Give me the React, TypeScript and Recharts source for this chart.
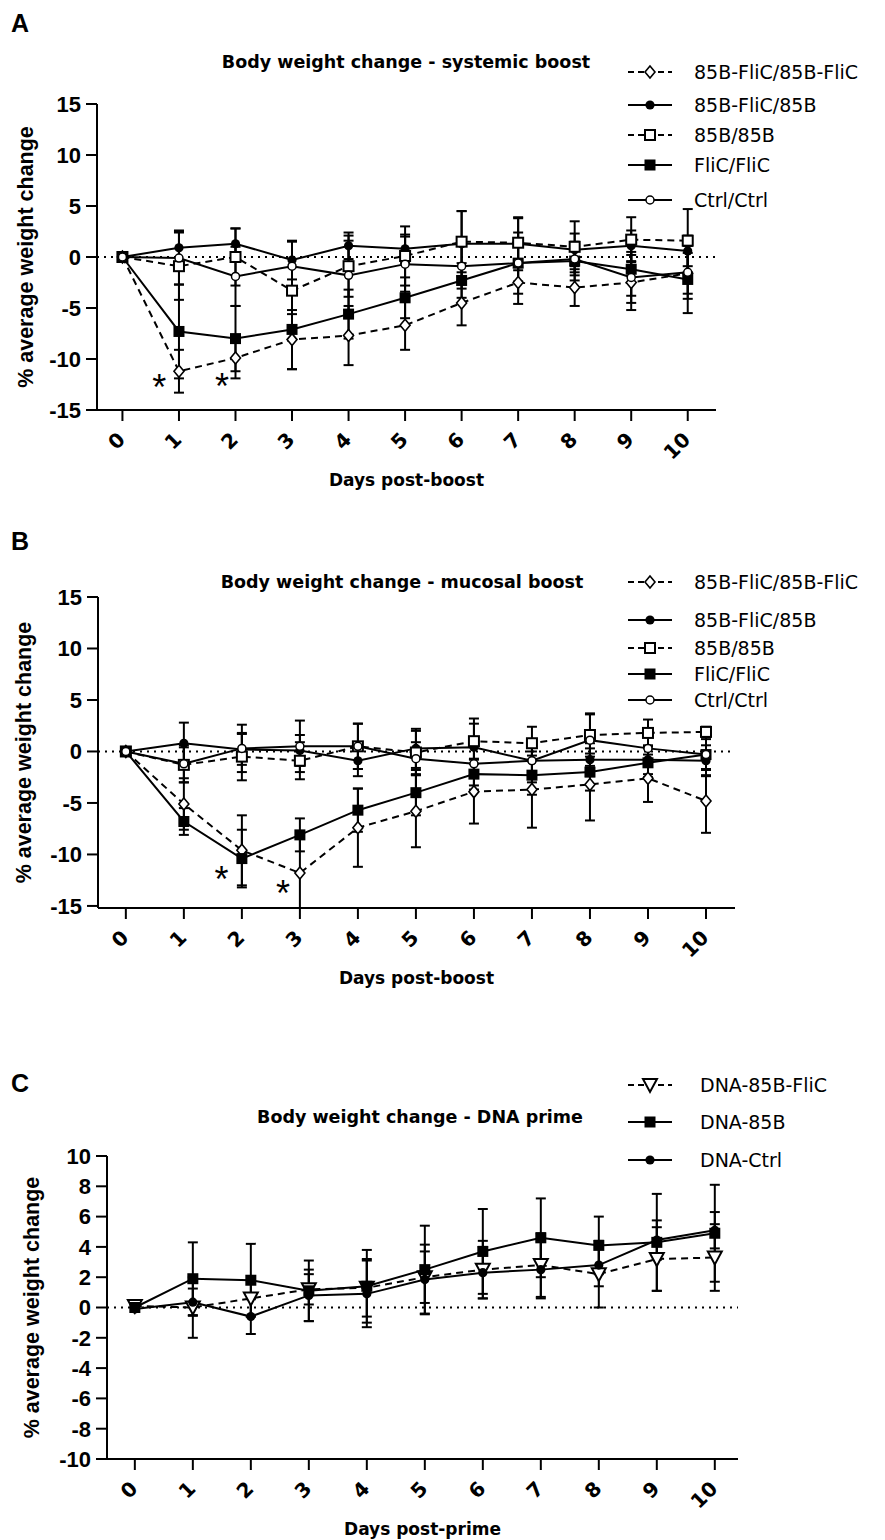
import React from 'react';
import { LineChart, Line, XAxis, YAxis, ReferenceLine, ReferenceDot, ErrorBar, Legend } from 'recharts';

// ---------------- DATA ----------------
const DAYS = [0, 1, 2, 3, 4, 5, 6, 7, 8, 9, 10];

// Panel A – systemic boost
const A_TITLE = 'Body weight change - systemic boost';
const A_NAMES = ['85B-FliC/85B-FliC', '85B-FliC/85B', '85B/85B', 'FliC/FliC', 'Ctrl/Ctrl'];
const A_85BFLIC_85BFLIC = [0, -11.2, -9.9, -8.1, -7.7, -6.7, -4.5, -2.5, -3.0, -2.5, -1.6];
const A_85BFLIC_85BFLIC_ERR = [0, 2.1, 2.0, 2.9, 2.9, 2.4, 2.2, 2.1, 1.8, 2.7, 2.0];
const A_85BFLIC_85B = [0, 0.9, 1.3, -0.3, 1.1, 0.8, 1.3, 1.3, 0.7, 1.1, 0.6];
const A_85BFLIC_85B_ERR = [0, 1.7, 1.5, 1.9, 1.3, 1.4, 3.2, 2.6, 1.6, 1.5, 1.5];
const A_85B_85B = [0, -0.9, 0.0, -3.3, -0.9, 0.1, 1.5, 1.4, 1.0, 1.7, 1.6];
const A_85B_85B_ERR = [0, 3.3, 2.8, 2.3, 3.0, 2.9, 3.0, 2.4, 2.5, 2.2, 3.1];
const A_FLIC_FLIC = [0, -7.3, -8.0, -7.1, -5.6, -4.0, -2.3, -0.6, -0.4, -1.2, -2.2];
const A_FLIC_FLIC_ERR = [0, 4.6, 3.2, 3.9, 2.4, 2.0, 1.7, 3.0, 1.9, 2.6, 3.3];
const A_CTRL_CTRL = [0, -0.1, -1.9, -0.9, -1.8, -0.7, -0.9, -0.6, -0.2, -2.0, -1.5];
const A_CTRL_CTRL_ERR = [0, 2.6, 2.9, 2.4, 3.4, 2.7, 2.2, 1.8, 1.6, 2.5, 2.6];
const A_STARS_X = [0.65, 1.76];
const A_STARS_Y = [-12.0, -11.9];

// Panel B – mucosal boost
const B_TITLE = 'Body weight change - mucosal boost';
const B_NAMES = ['85B-FliC/85B-FliC', '85B-FliC/85B', '85B/85B', 'FliC/FliC', 'Ctrl/Ctrl'];
const B_85BFLIC_85BFLIC = [0, -5.1, -9.6, -11.8, -7.4, -5.8, -3.9, -3.7, -3.2, -2.6, -4.8];
const B_85BFLIC_85BFLIC_ERR = [0, 2.5, 3.4, 3.4, 3.8, 3.5, 3.1, 3.7, 3.5, 2.3, 3.1];
const B_85BFLIC_85B = [0, 0.8, 0.2, 0.1, -0.9, 0.3, 0.4, -0.9, -0.8, -0.8, -0.9];
const B_85BFLIC_85B_ERR = [0, 2.0, 1.5, 1.5, 1.5, 1.9, 2.3, 1.5, 1.6, 1.4, 1.5];
const B_85B_85B = [0, -1.3, -0.5, -0.9, 0.5, -0.1, 1.0, 0.8, 1.6, 1.8, 1.9];
const B_85B_85B_ERR = [0, 1.7, 2.3, 1.8, 2.2, 2.1, 2.2, 1.6, 2.1, 1.3, 0.5];
const B_FLIC_FLIC = [0, -6.8, -10.4, -8.1, -5.7, -4.0, -2.2, -2.3, -2.0, -1.1, -0.3];
const B_FLIC_FLIC_ERR = [0, 1.3, 2.8, 1.6, 2.1, 2.2, 1.5, 1.9, 1.8, 1.4, 1.5];
const B_CTRL_CTRL = [0, -1.2, 0.3, 0.5, 0.5, -0.7, -1.2, -0.9, 1.1, 0.3, -0.3];
const B_CTRL_CTRL_ERR = [0, 1.8, 2.3, 2.5, 2.2, 1.6, 2.1, 2.1, 2.5, 1.8, 2.0];
const B_STARS_X = [1.65, 2.71];
const B_STARS_Y = [-11.6, -13.0];

// Panel C – DNA prime
const C_TITLE = 'Body weight change - DNA prime';
const C_NAMES = ['DNA-85B-FliC', 'DNA-85B', 'DNA-Ctrl'];
const C_DNA_85BFLIC = [0.1, 0.0, 0.6, 1.2, 1.3, 2.0, 2.5, 2.8, 2.2, 3.2, 3.3];
const C_DNA_85BFLIC_ERR = [0, 2.0, 1.2, 1.0, 1.9, 1.7, 1.9, 2.1, 2.2, 2.1, 2.2];
const C_DNA_85B = [0, 1.9, 1.8, 1.1, 1.4, 2.5, 3.7, 4.6, 4.1, 4.3, 4.9];
const C_DNA_85B_ERR = [0, 2.4, 2.4, 2.0, 2.4, 2.9, 2.8, 2.6, 1.9, 3.2, 3.2];
const C_DNA_CTRL = [-0.1, 0.35, -0.6, 0.8, 0.9, 1.85, 2.3, 2.5, 2.8, 4.45, 5.1];
const C_DNA_CTRL_ERR = [0, 0.9, 1.15, 1.7, 2.2, 2.3, 1.7, 1.9, 1.4, 1.3, 1.2];

const AB_Y_TICKS = [-15, -10, -5, 0, 5, 10, 15];
const C_Y_TICKS = [-10, -8, -6, -4, -2, 0, 2, 4, 6, 8, 10];
const Y_LABEL = '% average weight change';

// ---------------- BUILD TABLES ----------------
function buildRows(values: number[][], errors: number[][]) {
  return DAYS.map((d, i) => {
    const row: Record<string, number> = { day: d };
    values.forEach((v, k) => {
      row['s' + k] = v[i];
      row['e' + k] = errors[k][i];
    });
    return row;
  });
}

const A_ROWS = buildRows(
  [A_85BFLIC_85BFLIC, A_85BFLIC_85B, A_85B_85B, A_FLIC_FLIC, A_CTRL_CTRL],
  [A_85BFLIC_85BFLIC_ERR, A_85BFLIC_85B_ERR, A_85B_85B_ERR, A_FLIC_FLIC_ERR, A_CTRL_CTRL_ERR]
);
const B_ROWS = buildRows(
  [B_85BFLIC_85BFLIC, B_85BFLIC_85B, B_85B_85B, B_FLIC_FLIC, B_CTRL_CTRL],
  [B_85BFLIC_85BFLIC_ERR, B_85BFLIC_85B_ERR, B_85B_85B_ERR, B_FLIC_FLIC_ERR, B_CTRL_CTRL_ERR]
);
const C_ROWS = buildRows(
  [C_DNA_85BFLIC, C_DNA_85B, C_DNA_CTRL],
  [C_DNA_85BFLIC_ERR, C_DNA_85B_ERR, C_DNA_CTRL_ERR]
);

// ---------------- STYLES ----------------
const AB_STYLES = [
  { marker: 'diamondOpen', dashed: true },
  { marker: 'circleFilled', dashed: false },
  { marker: 'squareOpen', dashed: true },
  { marker: 'squareFilled', dashed: false },
  { marker: 'circleOpen', dashed: false },
];
const C_STYLES = [
  { marker: 'triangleOpen', dashed: true },
  { marker: 'squareFilled', dashed: false },
  { marker: 'circleFilled', dashed: false },
];

const SANS = "'DejaVu Sans', 'Liberation Sans', sans-serif";
const ARIAL = "'Liberation Sans', Arial, sans-serif";
const DASH = '7 5';

function Marker({ kind, cx, cy }: { kind: string; cx: number; cy: number }) {
  if (cx == null || cy == null || isNaN(cx) || isNaN(cy)) return null;
  switch (kind) {
    case 'diamondOpen':
      return (
        <polygon
          points={`${cx},${cy - 6} ${cx + 5},${cy} ${cx},${cy + 6} ${cx - 5},${cy}`}
          fill="#fff"
          stroke="#000"
          strokeWidth={1.6}
        />
      );
    case 'circleFilled':
      return <circle cx={cx} cy={cy} r={4.6} fill="#000" />;
    case 'squareOpen':
      return <rect x={cx - 5} y={cy - 5} width={10} height={10} fill="#fff" stroke="#000" strokeWidth={2} />;
    case 'squareFilled':
      return <rect x={cx - 5.5} y={cy - 5.5} width={11} height={11} fill="#000" />;
    case 'circleOpen':
      return <circle cx={cx} cy={cy} r={4} fill="#fff" stroke="#000" strokeWidth={1.5} />;
    case 'triangleOpen':
      return (
        <polygon
          points={`${cx - 7},${cy - 6} ${cx + 7},${cy - 6} ${cx},${cy + 7}`}
          fill="#fff"
          stroke="#000"
          strokeWidth={2}
        />
      );
    default:
      return null;
  }
}

function XTick(props: any) {
  const { x, y, payload } = props;
  const px = x - 1;
  const py = y + 13;
  return (
    <text
      x={px}
      y={py}
      textAnchor="end"
      dominantBaseline="central"
      transform={`rotate(-45 ${px} ${py})`}
      fontFamily={SANS}
      fontWeight="bold"
      fontSize={20}
      fill="#000"
    >
      {payload.value}
    </text>
  );
}

type PanelProps = {
  letter: string;
  letterY: number;
  title: string;
  titleX: number;
  titleY: number;
  xLabel: string;
  top: number;
  height: number;
  plot: { top: number; bottom: number; left: number; right: number };
  xDomain: [number, number];
  yDomain: [number, number];
  yTicks: number[];
  yLabelX: number;
  rows: Record<string, number>[];
  names: string[];
  styles: { marker: string; dashed: boolean }[];
  legendRows: number[];
  legendTextX: number;
  starsX?: number[];
  starsY?: number[];
};

function Panel(p: PanelProps) {
  const margin = { top: p.plot.top - p.top, right: 885 - p.plot.right, bottom: 0, left: 0 };
  const xAxisH = p.top + p.height - p.plot.bottom;
  const legendLeft = 615;
  const legendTop = p.legendRows[0] - 18;
  const legendH = p.legendRows[p.legendRows.length - 1] - p.legendRows[0] + 36;

  const renderLegend = (lp: any) => {
    const payload = (lp.payload || []).slice().sort((a: any, b: any) =>
      String(a.dataKey).localeCompare(String(b.dataKey))
    );
    return (
      <svg width={270} height={legendH} style={{ display: 'block' }}>
        {payload.map((entry: any, i: number) => {
          const k = parseInt(String(entry.dataKey).slice(1), 10);
          const st = p.styles[k];
          const ry = p.legendRows[k] - legendTop;
          return (
            <g key={'lg' + i}>
              <line
                x1={13}
                x2={57}
                y1={ry}
                y2={ry}
                stroke="#000"
                strokeWidth={2}
                strokeDasharray={st.dashed ? '6 4' : undefined}
              />
              <Marker kind={st.marker} cx={35} cy={ry} />
              <text
                x={p.legendTextX - legendLeft}
                y={ry}
                dominantBaseline="central"
                fontFamily={SANS}
                fontSize={19}
                fill="#000"
              >
                {entry.value}
              </text>
            </g>
          );
        })}
      </svg>
    );
  };

  const yLabel = (lp: any) => {
    const vb = lp.viewBox || {};
    const cy = (vb.y || 0) + (vb.height || 0) / 2;
    return (
      <text
        x={p.yLabelX}
        y={cy}
        textAnchor="middle"
        dominantBaseline="central"
        transform={`rotate(-90 ${p.yLabelX} ${cy})`}
        fontFamily={ARIAL}
        fontWeight="bold"
        fontSize={21.5}
        fill="#000"
      >
        {Y_LABEL}
      </text>
    );
  };

  const xLabel = (lp: any) => {
    const vb = lp.viewBox || {};
    const cx = (vb.x || 0) + (vb.width || 0) / 2;
    return (
      <text
        x={cx}
        y={(vb.y || 0) + 70}
        textAnchor="middle"
        dominantBaseline="central"
        fontFamily={SANS}
        fontWeight="bold"
        fontSize={17}
        fill="#000"
      >
        {p.xLabel}
      </text>
    );
  };

  return (
    <div style={{ position: 'absolute', left: 0, top: p.top, width: 885, height: p.height }}>
      <LineChart width={885} height={p.height} data={p.rows} margin={margin}>
        <XAxis
          type="number"
          dataKey="day"
          domain={p.xDomain}
          ticks={DAYS}
          interval={0}
          height={xAxisH}
          tickSize={11}
          axisLine={{ stroke: '#000', strokeWidth: 2 }}
          tickLine={{ stroke: '#000', strokeWidth: 2 }}
          tick={<XTick />}
          label={xLabel}
        />
        <YAxis
          type="number"
          domain={p.yDomain}
          ticks={p.yTicks}
          interval={0}
          width={p.plot.left}
          tickSize={11}
          tickMargin={5}
          axisLine={{ stroke: '#000', strokeWidth: 2 }}
          tickLine={{ stroke: '#000', strokeWidth: 2 }}
          tick={{ fill: '#000', fontSize: 22, fontWeight: 'bold', fontFamily: ARIAL }}
          label={yLabel}
        />
        <ReferenceLine y={0} stroke="#000" strokeWidth={2} strokeDasharray="2 5" />
        {p.styles.map((st, k) => (
          <Line
            key={'s' + k}
            type="linear"
            dataKey={'s' + k}
            name={p.names[k]}
            stroke="#000"
            strokeWidth={2}
            strokeDasharray={st.dashed ? DASH : undefined}
            dot={(dp: any) => <Marker key={'d' + k + '-' + dp.index} kind={st.marker} cx={dp.cx} cy={dp.cy} />}
            activeDot={false}
            isAnimationActive={false}
          >
            <ErrorBar dataKey={'e' + k} width={5} strokeWidth={2} stroke="#000" direction="y" />
          </Line>
        ))}
        {(p.starsX || []).map((sx, i) => (
          <ReferenceDot
            key={'star' + i}
            x={sx}
            y={(p.starsY || [])[i]}
            r={0}
            shape={(sp: any) => (
              <text
                x={sp.cx}
                y={sp.cy + 21}
                textAnchor="middle"
                fontFamily={ARIAL}
                fontSize={36}
                fill="#000"
              >
                *
              </text>
            )}
          />
        ))}
        <Legend
          layout="horizontal"
          verticalAlign="middle"
          align="center"
          content={renderLegend}
          wrapperStyle={{ left: legendLeft, top: legendTop - p.top, width: 270, height: legendH }}
        />
      </LineChart>
      <svg
        width={885}
        height={p.height}
        style={{ position: 'absolute', left: 0, top: 0, pointerEvents: 'none' }}
      >
        <text x={11} y={p.letterY - p.top} fontFamily={ARIAL} fontWeight="bold" fontSize={25} fill="#000">
          {p.letter}
        </text>
        <text
          x={p.titleX}
          y={p.titleY - p.top}
          textAnchor="middle"
          dominantBaseline="central"
          fontFamily={SANS}
          fontWeight="bold"
          fontSize={17.5}
          fill="#000"
        >
          {p.title}
        </text>
      </svg>
    </div>
  );
}

export default function App() {
  return (
    <div style={{ position: 'absolute', left: 0, top: 0, width: 885, height: 1540, background: '#fff' }}>
      <Panel
        letter="A"
        letterY={32}
        title={A_TITLE}
        titleX={406}
        titleY={62}
        xLabel="Days post-boost"
        top={0}
        height={500}
        plot={{ top: 104, bottom: 410, left: 97, right: 716 }}
        xDomain={[-0.45, 10.5]}
        yDomain={[-15, 15]}
        yTicks={AB_Y_TICKS}
        yLabelX={26}
        rows={A_ROWS}
        names={A_NAMES}
        styles={AB_STYLES}
        legendRows={[72, 105, 135, 165, 200]}
        legendTextX={694}
        starsX={A_STARS_X}
        starsY={A_STARS_Y}
      />
      <Panel
        letter="B"
        letterY={550}
        title={B_TITLE}
        titleX={402}
        titleY={582}
        xLabel="Days post-boost"
        top={500}
        height={510}
        plot={{ top: 597, bottom: 908, left: 98, right: 735 }}
        xDomain={[-0.48, 10.5]}
        yDomain={[-15, 15]}
        yTicks={AB_Y_TICKS}
        yLabelX={24}
        rows={B_ROWS}
        names={B_NAMES}
        styles={AB_STYLES}
        legendRows={[582, 620, 648, 674, 700]}
        legendTextX={694}
        starsX={B_STARS_X}
        starsY={B_STARS_Y}
      />
      <Panel
        letter="C"
        letterY={1092}
        title={C_TITLE}
        titleX={420}
        titleY={1117}
        xLabel="Days post-prime"
        top={1010}
        height={530}
        plot={{ top: 1156, bottom: 1459, left: 107, right: 738 }}
        xDomain={[-0.48, 10.4]}
        yDomain={[-10, 10]}
        yTicks={C_Y_TICKS}
        yLabelX={32}
        rows={C_ROWS}
        names={C_NAMES}
        styles={C_STYLES}
        legendRows={[1085, 1122, 1160]}
        legendTextX={700}
      />
    </div>
  );
}
